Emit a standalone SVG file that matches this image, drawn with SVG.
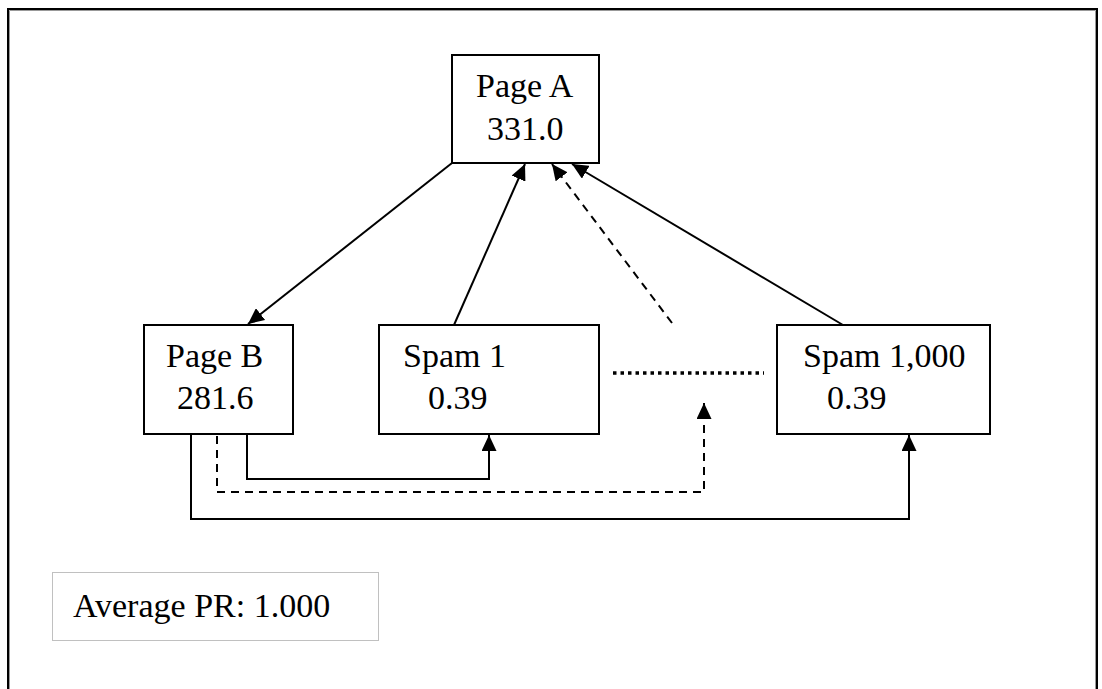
<svg xmlns="http://www.w3.org/2000/svg" width="1102" height="689" viewBox="0 0 1102 689">
<style>
.box{fill:#fff;stroke:#000;stroke-width:2}
.t{font-family:"Liberation Serif","Times New Roman",serif;font-size:34px;fill:#000}
.c{fill:none;stroke:#000;stroke-width:2}
.d{stroke-dasharray:8,6}
</style>
<defs>
<marker id="ah" markerUnits="userSpaceOnUse" markerWidth="17" markerHeight="15" refX="16" refY="7.5" orient="auto">
<path d="M0,0 L16,7.5 L0,15 z" fill="#000"/>
</marker>
</defs>
<rect x="0" y="0" width="1102" height="689" fill="#fff"/>
<g id="frame">
<path d="M8,689 V9 H1097 V689" fill="none" stroke="#000" stroke-width="2"/>
<path d="M9.5,689 V10.5 H1095.5 V689" fill="none" stroke="#999" stroke-width="1"/>
</g>
<g id="connectors">
<line class="c" x1="452" y1="163" x2="248" y2="324" marker-end="url(#ah)"/>
<line class="c" x1="454" y1="325" x2="525" y2="164" marker-end="url(#ah)"/>
<line class="c d" x1="672" y1="323" x2="552" y2="164" marker-end="url(#ah)"/>
<line class="c" x1="843" y1="325" x2="572" y2="164" marker-end="url(#ah)"/>
<polyline class="c" points="247,434 247,479 489,479 489,435" marker-end="url(#ah)"/>
<polyline class="c d" points="217,436 217,492 704,492 704,403" marker-end="url(#ah)"/>
<polyline class="c" points="191,434 191,519 909,519 909,435" marker-end="url(#ah)"/>
<line x1="613" y1="373" x2="764" y2="373" stroke="#000" stroke-width="3.5" stroke-dasharray="3.5,4"/>
</g>
<g id="pageA">
<rect class="box" x="452" y="55" width="147" height="108"/>
<text class="t" x="476" y="97">Page A</text>
<text class="t" x="487" y="140">331.0</text>
</g>
<g id="pageB">
<rect class="box" x="144" y="325" width="149" height="109"/>
<text class="t" x="166" y="367">Page B</text>
<text class="t" x="177" y="409">281.6</text>
</g>
<g id="spam1">
<rect class="box" x="379" y="325" width="220" height="109"/>
<text class="t" x="403" y="367">Spam 1</text>
<text class="t" x="428" y="409">0.39</text>
</g>
<g id="spam1000">
<rect class="box" x="777" y="325" width="213" height="109"/>
<text class="t" x="803" y="367">Spam 1,000</text>
<text class="t" x="827" y="409">0.39</text>
</g>
<g id="avg">
<rect x="52.5" y="572.5" width="326" height="68" fill="#fff" stroke="#c0c0c0" stroke-width="1"/>
<text class="t" x="73" y="617">Average PR: 1.000</text>
</g>
</svg>
